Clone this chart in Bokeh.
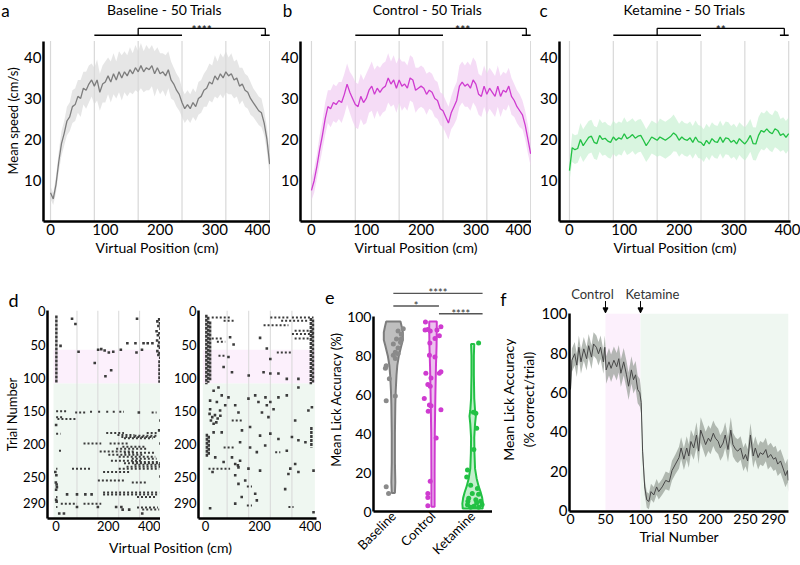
import numpy as np
from bokeh.plotting import figure
from bokeh.layouts import row, column
from bokeh.models import Range1d, FixedTicker, Arrow, NormalHead, LinearAxis, Title
from bokeh.embed import file_html
from bokeh.resources import INLINE
from bokeh.core.properties import value

FONT = "Lato"

# ---------------- data: panels a-c (mean running speed per 5 cm bin) ----------------
POS_CM = list(range(0, 401, 5))
ZONE_EDGES = [0, 80, 160, 240, 320, 400]
SPEED_MAX = 44

BASE_SPEED = [7, 5.5, 9, 14.5, 19, 21.5, 24.5, 25.5, 28,
              28.5, 30.5, 30, 32.5, 32, 33.5, 34.5, 33, 34.5,
              31.5, 33.5, 34, 35.5, 34, 36, 34.5, 36.5, 35,
              36.5, 35.5, 37, 36, 37.5, 36.5, 38, 36.5, 37.5,
              37, 38, 36, 37.5, 36, 36.5, 35.5, 37, 34.5,
              33.5, 32, 31, 29, 27.5, 28.5, 27.5, 29, 28,
              30, 30.5, 32, 32.5, 34, 33.5, 35.5, 34.5, 36,
              35, 36.5, 35.5, 36, 34.5, 35, 33, 33.5, 32,
              31.5, 30, 29, 28, 27, 26.5, 24, 20, 14]
BASE_SEM = [1.5, 1.5, 2, 2.5, 3, 3, 3.5, 3.5, 4,
            4, 4, 4.5, 4, 4.5, 4.5, 4, 4.5, 5,
            4.5, 4.5, 5, 4.5, 5, 5, 4.5, 5, 5.5,
            5, 5, 5.5, 5, 5.5, 5, 5.5, 5, 5.5,
            5, 5, 5.5, 5, 5, 4.5, 5, 4.5, 4.5,
            4, 4, 4, 3.5, 3.5, 3.5, 3.5, 3.5, 3.5,
            4, 4, 4, 4.5, 4.5, 4.5, 5, 4.5, 5,
            5, 5, 4.5, 5, 4.5, 4.5, 4.5, 4, 4,
            4, 4, 3.5, 3.5, 3.5, 3.5, 3, 3, 3]

CTRL_SPEED = [7.6, 10, 13.5, 17.5, 21, 25, 28, 27.5, 29,
              28.5, 29.5, 29, 31, 33.5, 31.5, 30, 28.5, 28,
              30.5, 29, 30, 32, 33, 31, 32.5, 31.5, 32.5,
              33, 35, 33.5, 34.5, 32.5, 34.5, 33, 33.5, 32.5,
              35, 34.5, 32, 32.5, 33, 32.5, 31, 32, 31.5,
              30, 29.5, 27.5, 27, 25.5, 24, 26.5, 28, 29.5,
              33, 34, 33, 33.5, 32.5, 34.5, 33.5, 31, 30.5,
              33, 31, 32.5, 31.5, 30.5, 33, 30.5, 32, 31.5,
              33, 30.5, 29.5, 28, 27, 26, 23.5, 20, 16.5]
CTRL_SEM = [2.5, 3, 3, 3.5, 3.5, 4, 4, 4.5, 4.5,
            4.5, 4.5, 5, 5, 5, 5, 5.5, 5.5, 5.5,
            5.5, 5.5, 6, 5.5, 6, 6, 5.5, 6, 6,
            6, 6, 5.5, 6, 6, 5.5, 6, 5.5, 5.5,
            5.5, 5.5, 5.5, 5, 5, 5, 5, 4.5, 4.5,
            4.5, 4.5, 4, 4, 4, 4, 4, 4.5, 4.5,
            5, 5, 5, 5.5, 5.5, 5.5, 5.5, 5, 5,
            5, 5, 5, 5, 5, 5, 5, 4.5, 4.5,
            4.5, 4.5, 4, 4, 4, 3.5, 3.5, 3.5, 3]

KET_SPEED = [12.4, 18, 17.5, 17.8, 20, 18.5, 19.5, 20.5, 20.8,
             19.3, 19, 21, 20, 20.3, 19.6, 19.3, 20.6, 19.8,
             20.4, 20.1, 21.4, 20.2, 20.6, 21.2, 20.3, 20.8, 21,
             19.8, 18.5, 19.5, 20.6, 20.2, 19.8, 20.6, 20.2, 19.8,
             20.3, 20.8, 21.6, 21, 19.8, 20.6, 20, 19.8, 20.4,
             19.3, 20.6, 19.5, 19.3, 18.5, 19.8, 18.9, 20.2, 19.5,
             19.3, 20.6, 19.3, 20.4, 20.2, 19.3, 19.8, 18.9, 20.2,
             19.5, 18.9, 19.8, 21, 19, 18.9, 21, 22.2, 21.8,
             22.6, 21.8, 21.4, 22.6, 22.2, 21, 21.4, 20.5, 21.4]
KET_SEM = [2.5, 3.5, 3.5, 3.5, 4, 4, 4, 4, 4,
           4, 4, 4, 4, 4, 4, 4, 4, 4,
           4, 4, 4, 4, 4, 4, 4, 4, 4,
           4, 4, 4, 4, 4, 4, 4.5, 4.5, 4.5,
           4.5, 4.5, 4.5, 4, 4, 4, 4, 4, 4,
           4, 4, 4, 4, 4, 4, 4, 4, 4,
           4, 4, 4, 4, 4, 4, 4, 4, 4,
           4, 4, 4, 4, 4, 4, 4.5, 4.5, 4.5,
           4.5, 4.5, 4.5, 4.5, 4.5, 4, 4, 4, 4]

# significance bracket: compared zone (low span) vs reward zone (high span)
BRACKET_LOW = [80, 240]
BRACKET_HIGH = [160, 392]
BRACKET_TAIL = [384, 400]
BRACKET_Y = [45.4, 47.1]
SPEED_STARS = ["****", "***", "**"]
SPEED_TITLES = ["Baseline - 50 Trials", "Control - 50 Trials", "Ketamine - 50 Trials"]
PANEL_LETTERS = ["a", "b", "c", "d", "e", "f"]

# ---------------- data: panel d (lick rasters) ----------------
SESSION_CONTROL = [58, 109]
SESSION_KETAMINE = [109, 313.5]
TRACK_EXTENT = [-10, 405]

# left raster: dense lick columns (x, first trial, last trial)
L_COL_X = [1, 396]
L_COL_T0 = [6, 74]
L_COL_T1 = [108, 108]
# runs of licks (trial, start cm, end cm)
L_RUN_T = [151, 153, 152, 152, 152, 152, 152, 153, 160, 163, 185, 184, 184, 187, 188, 190, 192,
           200, 200, 205, 208, 211, 212, 214, 217, 220, 223, 226, 228, 230, 232, 235, 238, 238, 238,
           243, 256, 259, 274, 277, 281, 281, 291, 291, 296, 297, 300]
L_RUN_X0 = [0, 73, 130, 161, 192, 217, 242, 366, 0, 5, 0, 192, 347, 235, 300, 250, 260,
            105, 205, 254, 230, 11, 167, 260, 200, 240, 290, 210, 290, 260, 300, 270, 0, 61, 240,
            180, 160, 290, 180, 180, 0, 310, 18, 105, 0, 310, 330]
L_RUN_X1 = [42, 117, 142, 173, 204, 229, 260, 385, 30, 80, 17, 260, 385, 300, 385, 380, 370,
            173, 280, 341, 350, 24, 300, 379, 330, 380, 385, 330, 395, 390, 398, 398, 5, 136, 395,
            280, 260, 350, 395, 390, 5, 385, 80, 173, 5, 390, 395]
# single licks (trial, cm)
L_DOT_T = [11, 19, 11, 52, 48, 48, 48, 48, 48, 61, 58, 57, 59, 62, 61, 58, 62, 58, 78, 89, 98,
           12, 15, 18, 22, 26, 30, 33, 36, 40, 44, 47, 52, 55, 60, 63, 66, 70,
           243, 248, 259, 262, 277, 277, 277, 277, 296, 296, 296, 296, 300, 300, 306, 306, 306,
           153, 172, 285, 288, 270, 266, 250, 230, 200, 165, 180]
L_DOT_X = [61, 74, 310, 17, 273, 304, 335, 351, 369, 86, 161, 173, 186, 202, 219, 248, 308, 329, 148, 211, 189,
           395, 388, 398, 392, 400, 385, 396, 390, 399, 387, 395, 392, 398, 388, 396, 392, 399,
           -3, 1, -1, 2, 42, 80, 112, 136, 80, 160, 230, 250, 255, 280, 12, 30, 330,
           317, 0, 0, 2, 0, 3, 400, 400, 400, 400, 395]

# right raster
R_COL_X = [3, 10, 17, 390, 398, 5, 12, 392]
R_COL_T0 = [5, 8, 15, 10, 12, 185, 188, 175]
R_COL_T1 = [110, 108, 104, 110, 109, 221, 218, 206]
R_RUN_T = [9, 9, 9, 14, 14, 21, 29, 34, 41, 41, 46, 62, 67, 165, 206, 213, 238, 265, 294, 296]
R_RUN_X0 = [23, 240, 320, 67, 280, 215, 330, 320, 23, 330, 42, 264, 48, 97, 67, 258, 11, 153, 153, 307]
R_RUN_X1 = [97, 307, 400, 104, 380, 307, 400, 400, 60, 395, 73, 320, 73, 141, 104, 277, 91, 172, 172, 326]
R_DOT_T = [39, 50, 40, 56, 72, 69, 84, 92, 97, 92, 94, 94, 102, 102,
           115, 120, 127, 130, 135, 137, 142, 148, 150, 142, 132, 127, 137, 130, 142, 137, 148, 130, 127,
           115, 150, 145, 153, 153,
           155, 157, 160, 162, 165, 168, 170, 158, 160, 165, 175,
           183, 183, 180, 188, 185, 193, 190, 195, 198, 198, 206, 213, 203, 211,
           221, 221, 226, 228, 231, 233, 236, 241, 238, 238, 231, 243, 243, 241, 246, 248, 256, 261,
           269, 276, 281, 286, 291, 298, 304]
R_DOT_X = [91, 104, 202, 227, 240, 85, 67, 98, 160, 215, 240, 270, 301, 344,
           48, 30, 60, 85, 17, 42, 73, 17, 54, 110, 159, 184, 196, 222, 227, 240, 252, 270, 301,
           344, 381, 394, 122, 209,
           15, 35, 25, 45, 20, 40, 30, 55, 233, 332, 165,
           30, 60, 135, 202, 240, 270, 320, 344, 370, 128, 165, 190, 221, 301,
           36, 98, 128, 67, 110, 120, 122, 202, 159, 314, 332, 344, 26, 400, 307, 110, 147, 122,
           295, 184, 134, 190, 110, 17, 400]
RASTER_TICKS_Y = [0, 50, 100, 150, 200, 250, 290]

# ---------------- data: panel e (mean lick accuracy per animal/session) ----------------
GROUPS = ["Baseline", "Control", "Ketamine"]
BASE_ACC = [93.8, 92.7, 91, 88.5, 88.5, 86.8, 86, 84, 81.8, 81, 80.2, 78.5, 74.8, 73.5, 68.2, 59.3, 56.8, 12.7, 9.3]
BASE_JIT = [0.25, 0.12, 0.2, 0.08, 0.2, 0.18, 0, 0.12, 0.05, 0.12, 0, 0.05, -0.18, -0.2, -0.1, 0.05, -0.18, -0.18, -0.12]
CTRL_ACC = [97.3, 93.2, 93.5, 92.7, 93.2, 90.2, 94.8, 88.8, 86.5, 80.2,
            79.3, 71, 68.5, 65.2, 64.3, 71.8, 71, 58, 54.7, 54.3,
            51.5, 52.2, 37.7, 15.5, 9.3, 7.2, 3]
CTRL_JIT = [-0.19, -0.2, -0.13, -0.07, 0.1, 0.16, 0.2, 0.05, -0.08, -0.09,
            0.05, -0.18, -0.05, -0.13, -0.07, 0.2, 0.16, -0.22, -0.09, -0.05,
            -0.12, 0.2, 0.08, -0.07, -0.13, -0.13, -0.13]
KET_ACC = [86.5, 51, 50.5, 42.7, 31.8, 21.3, 17.7, 13.5, 11.8, 9.3,
           8.8, 6.8, 6, 5.2, 3.5, 2.7, 2.2, 2.2, 3.5, 4.3, 5.2]
KET_JIT = [0.15, 0.02, 0.08, 0.1, 0.03, -0.13, -0.15, -0.05, 0.12, -0.01,
           0.15, -0.1, 0.08, 0.2, -0.13, 0.03, 0.15, -0.05, 0.24, 0.1, -0.12]
# violin outlines (accuracy level, half width in group units)
BASE_V_Y = [9.5, 15, 25, 40, 55, 62, 70, 75, 80, 85, 88, 92, 95, 97.5]
BASE_V_W = [0.04, 0.05, 0.04, 0.04, 0.05, 0.06, 0.08, 0.1, 0.14, 0.2, 0.24, 0.24, 0.21, 0.18]
CTRL_V_Y = [2.5, 20, 40, 60, 75, 85, 95, 97.5]
CTRL_V_W = [0.04, 0.04, 0.045, 0.06, 0.075, 0.09, 0.095, 0.095]
KET_V_Y = [1.5, 4, 7, 10, 13, 17, 22, 30, 38, 45, 49, 52, 58, 70, 80, 86]
KET_V_W = [0.25, 0.26, 0.24, 0.2, 0.15, 0.1, 0.06, 0.045, 0.04, 0.06, 0.08, 0.06, 0.04, 0.03, 0.03, 0.04]
E_BRACKETS = [(1.0, 3.25, 112.0, "****"), (1.0, 2.15, 105.5, "*"), (2.15, 3.25, 101.5, "****")]

# ---------------- data: panel f (lick accuracy across trials) ----------------
F_TRIAL = [0, 2, 6, 9, 12, 15, 19, 23, 26, 30, 33, 37, 40, 43, 47, 49, 51, 55, 58, 62,
           66, 69, 72, 76, 80, 83, 87, 90, 93, 96, 99, 101, 103, 106, 109, 112, 115, 119, 123, 126,
           131, 136, 141, 145, 150, 155, 158, 162, 166, 169, 172, 176, 180, 183, 186, 190, 193, 197, 200, 204,
           207, 211, 214, 218, 221, 225, 229, 232, 236, 239, 243, 247, 250, 253, 257, 261, 264, 268, 271, 275,
           279, 282, 286, 290, 293, 296, 300, 304, 307, 310, 311]
F_ACC = [61.5, 76.4, 79.7, 73.9, 83, 75.6, 82.2, 77.2, 83.8, 78, 84.7, 83, 79.7, 83, 75.6, 83, 71.5, 75.6, 72.3, 76.4,
         73.1, 77.2, 69.8, 75.6, 69, 63.2, 71.5, 66.5, 69, 61.5, 59.9, 55, 30.2, 12, 5.4, 4.6, 9.6, 7.9, 12, 9.6,
         12, 15.3, 14.5, 20.3, 23.6, 26.9, 31.8, 26.1, 31.8, 27.7, 35.1, 31.8, 38.4, 30.2, 40.9, 36.8, 33.5, 36.8, 35.1, 39.3,
         36.8, 35.1, 31.8, 34.3, 38.4, 31, 40.9, 33.5, 31, 30.2, 31.8, 26.1, 28.5, 25.2, 38.4, 27.7, 31.8, 26.9, 29.4, 28.5,
         31, 26.9, 28.5, 26.1, 26.9, 23.6, 25.2, 21.1, 17.8, 20.3, 15.3]
F_SEM = [5, 6, 6, 6, 6, 6, 6, 6, 6, 6, 6, 6, 6, 6, 6, 6, 7, 7, 7, 7,
         7, 7, 7, 7, 7, 7, 7, 7, 7, 7, 7, 6, 5, 4, 4, 4, 4, 4, 4, 4,
         4, 4.5, 4.5, 5, 5, 5.5, 5.5, 5.5, 6, 6, 6, 6, 6.5, 6.5, 6.5, 6.5, 6.5, 6.5, 6.5, 6.5,
         6.5, 6.5, 6.5, 6.5, 6.5, 6.5, 6.5, 6, 6, 6, 6, 6, 6, 6, 6, 6, 6, 6, 6, 6,
         6, 6, 6, 6, 6, 6, 6, 6, 6, 6, 6]
F_SESSION_CONTROL = [50, 100]
F_SESSION_KETAMINE = [100, 311.5]
F_TICKS = [0, 50, 100, 150, 200, 250, 290]

# ---------------- colours ----------------
GREY_LINE, GREY_BAND = "#7d7d7d", "#d9d9d9"
MAG_LINE, MAG_BAND = "#cf3bd0", "#f0c9f1"
GRN_LINE, GRN_BAND = "#22c144", "#c4efcf"
PINK_BG, GREEN_BG = "#fcf0fc", "#eff7f1"
ZONE_C = "#d8d8d8"
RASTER_C = "#3b3b3b"


def base_fig(width, height, xr, yr, bl, br, bt, bb, **kw):
    p = figure(width=width, height=height, x_range=Range1d(*xr), y_range=Range1d(*yr),
               output_backend="svg", toolbar_location=None,
               min_border_left=bl, min_border_right=br, min_border_top=bt, min_border_bottom=bb, **kw)
    p.outline_line_color = None
    p.xgrid.visible = False
    p.ygrid.visible = False
    for ax in (p.xaxis[0], p.yaxis[0]):
        ax.axis_line_width = 2.5
        ax.axis_line_color = "black"
        ax.major_tick_line_color = None
        ax.minor_tick_line_color = None
        ax.major_tick_out = 0
        ax.major_tick_in = 0
        ax.minor_tick_out = 0
        ax.minor_tick_in = 0
        ax.major_label_text_font = FONT
        ax.major_label_text_font_size = "15px"
        ax.major_label_text_color = "black"
        ax.axis_label_text_font = FONT
        ax.axis_label_text_font_size = "14px"
        ax.axis_label_text_font_style = "normal"
        ax.axis_label_text_color = "black"
        ax.axis_label_standoff = 1
        ax.major_label_standoff = 2
    return p


def axis_letter(p, txt, yval):
    # panel letter drawn as the single label of an extra, line-less axis on the left;
    # the negative standoff lets it take no extra width
    ax = LinearAxis(ticker=FixedTicker(ticks=[yval]), major_label_overrides={yval: txt},
                    axis_line_color=None, major_tick_line_color=None, minor_tick_line_color=None,
                    major_tick_out=0, major_tick_in=0, minor_tick_out=0, minor_tick_in=0,
                    major_label_text_font=FONT, major_label_text_font_size="18px",
                    major_label_text_color="black", major_label_standoff=-9)
    p.add_layout(ax, "left")


# ---------------- top strip: panel letters and titles ----------------
STRIP_H = 20
strip = figure(width=800, height=STRIP_H, x_range=Range1d(0, 800), y_range=Range1d(STRIP_H, 0),
               output_backend="svg", toolbar_location=None, min_border=0,
               x_axis_location=None, y_axis_location=None)
strip.outline_line_color = None
strip.grid.visible = False
strip.text(x=[5, 287, 543], y=[10, 10, 10], text=PANEL_LETTERS[:3], text_font=value(FONT),
           text_font_size="17px", text_align="center", text_baseline="middle", text_color="black")
strip.text(x=[164, 427, 684], y=[9, 9, 9], text=SPEED_TITLES, text_font=value(FONT),
           text_font_size="14px", text_align="center", text_baseline="middle", text_color="black")

TOP_H, TOP_BB = 285 - STRIP_H, 64


def speed_panel(mean, sem, lc, bc, stars, width, bl, br, xr, ylabel):
    p = base_fig(width, TOP_H, xr, (0, 49.0), bl, br, 0, TOP_BB)
    x = np.array(POS_CM)
    m = np.array(mean)
    s = np.array(sem)
    p.segment(x0=ZONE_EDGES, y0=0, x1=ZONE_EDGES, y1=SPEED_MAX, color=ZONE_C, line_width=1.2)
    p.varea(x=x, y1=m - s, y2=m + s, fill_color=bc, fill_alpha=0.65)
    p.line(x, m, line_color=lc, line_width=1.3)
    lo, hi = BRACKET_Y
    bx0 = [BRACKET_LOW[0], BRACKET_HIGH[0], BRACKET_HIGH[0], BRACKET_HIGH[1], BRACKET_TAIL[0]]
    bx1 = [BRACKET_LOW[1], BRACKET_HIGH[0], BRACKET_HIGH[1], BRACKET_HIGH[1], BRACKET_TAIL[1]]
    by0 = [lo, lo, hi, hi, lo]
    by1 = [lo, hi, hi, lo, lo]
    p.segment(x0=bx0, y0=by0, x1=bx1, y1=by1, color="black", line_width=1.3)
    p.text(x=[(BRACKET_HIGH[0] + BRACKET_HIGH[1]) / 2], y=[hi - 0.4], text=[stars],
           text_font=value(FONT), text_font_size="12px", text_align="center",
           text_baseline="alphabetic", text_color="black")
    p.xaxis.ticker = FixedTicker(ticks=[0, 100, 200, 300, 400])
    p.yaxis.ticker = FixedTicker(ticks=[10, 20, 30, 40])
    p.yaxis.bounds = (0, SPEED_MAX)
    p.xaxis.axis_label = "Virtual Position (cm)"
    if ylabel:
        p.yaxis.axis_label = ylabel
        p.yaxis.axis_label_text_font_size = "13px"
        p.yaxis.axis_label_standoff = 0
    return p


pa = speed_panel(BASE_SPEED, BASE_SEM, GREY_LINE, GREY_BAND, SPEED_STARS[0],
                 270, 43, 0, (-12.8, 401.5), "Mean speed (cm/s)")
pb = speed_panel(CTRL_SPEED, CTRL_SEM, MAG_LINE, MAG_BAND, SPEED_STARS[1],
                 261, 30, 0, (-20, 401.5), None)
pc = speed_panel(KET_SPEED, KET_SEM, GRN_LINE, GRN_BAND, SPEED_STARS[2],
                 269, 28, 10, (-18.2, 403.3), None)

D_H, D_BT, D_BB = 252, 25, 19


def raster_panel(width, bl, br, xr, cols, runs, dots, ylabel):
    p = base_fig(width, D_H, xr, (313.5, -1.5), bl, br, D_BT, D_BB)
    p.quad(left=TRACK_EXTENT[0], right=TRACK_EXTENT[1], bottom=SESSION_CONTROL[1], top=SESSION_CONTROL[0],
           fill_color=PINK_BG, line_color=None)
    p.quad(left=TRACK_EXTENT[0], right=TRACK_EXTENT[1], bottom=SESSION_KETAMINE[1], top=SESSION_KETAMINE[0],
           fill_color=GREEN_BG, line_color=None)
    zones = ZONE_EDGES[1:-1]
    p.segment(x0=zones, y0=-1.5, x1=zones, y1=313.5, color=ZONE_C, line_width=1)
    cx, ct0, ct1 = cols
    p.segment(x0=cx, y0=ct0, x1=cx, y1=ct1, color=RASTER_C, line_width=2.5, line_dash="3 1")
    rt, rx0, rx1 = runs
    p.segment(x0=rx0, y0=rt, x1=rx1, y1=rt, color=RASTER_C, line_width=2, line_dash="2 2")
    dt, dx = dots
    p.scatter(x=dx, y=dt, marker="square", size=2.6, color=RASTER_C, line_color=None)
    p.xaxis.ticker = FixedTicker(ticks=[0, 200, 400])
    p.yaxis.ticker = FixedTicker(ticks=RASTER_TICKS_Y)
    p.yaxis.bounds = (-1.5, 313.5)
    for ax in (p.xaxis[0], p.yaxis[0]):
        ax.major_label_text_font_size = "13px"
        ax.major_label_standoff = 2
    if ylabel:
        p.yaxis.axis_label = ylabel
        p.yaxis.axis_label_standoff = 0
        p.yaxis.axis_label_text_font_size = "13px"
    return p


pd1 = raster_panel(160, 43, 0, (-33, 400), (L_COL_X, L_COL_T0, L_COL_T1),
                   (L_RUN_T, L_RUN_X0, L_RUN_X1), (L_DOT_T, L_DOT_X), "Trial Number")
pd1.add_layout(Title(text=PANEL_LETTERS[3], align="left", offset=-39, standoff=0,
                     text_font=FONT, text_font_size="18px", text_font_style="normal",
                     text_color="black"), "above")
pd2 = raster_panel(161, 38, 5, (-26, 411), (R_COL_X, R_COL_T0, R_COL_T1),
                   (R_RUN_T, R_RUN_X0, R_RUN_X1), (R_DOT_T, R_DOT_X), None)

plab = figure(width=321, height=28, x_range=Range1d(0, 321), y_range=Range1d(0, 28),
              output_backend="svg", toolbar_location=None, min_border=0,
              x_axis_location=None, y_axis_location=None)
plab.outline_line_color = None
plab.grid.visible = False
plab.text(x=[170], y=[27], text=["Virtual Position (cm)"], text_font=value(FONT),
          text_font_size="14px", text_align="center", text_baseline="top", text_color="black")

# ---------------- panel e ----------------
BOT_H, BOT_BT, BOT_BB = 280, 2, 48
pe = base_fig(171, BOT_H, (0.5, 3.5), (0, 115), 51, 0, BOT_BT, BOT_BB)
violins = [(1, BASE_V_Y, BASE_V_W, GREY_LINE, "#a9a9a9", BASE_ACC, BASE_JIT, "#8a8a8a"),
           (2, CTRL_V_Y, CTRL_V_W, MAG_LINE, "#e6aee8", CTRL_ACC, CTRL_JIT, MAG_LINE),
           (3, KET_V_Y, KET_V_W, GRN_LINE, "#aee9bb", KET_ACC, KET_JIT, GRN_LINE)]
for c, vy, vw, lc, fc, acc, jit, dc in violins:
    vy = np.array(vy)
    vw = np.array(vw)
    xs = np.concatenate([c - vw, (c + vw)[::-1]])
    ys = np.concatenate([vy, vy[::-1]])
    pe.patch(xs, ys, fill_color=fc, fill_alpha=0.75, line_color=lc, line_width=2)
    pe.scatter(x=c + np.array(jit), y=acc, size=5, color=dc, line_color=None)
for x0, x1, yb, st in E_BRACKETS:
    pe.segment(x0=[x0], y0=[yb], x1=[x1], y1=[yb], color="#555555", line_width=1.4)
    pe.text(x=[(x0 + x1) / 2], y=[yb + 0.3], text=[st], text_font=value(FONT), text_font_size="11px",
            text_align="center", text_baseline="alphabetic", text_color="#333333")
pe.xaxis.ticker = FixedTicker(ticks=[1, 2, 3])
pe.xaxis.major_label_overrides = {1: GROUPS[0], 2: GROUPS[1], 3: GROUPS[2]}
pe.xaxis.major_label_orientation = np.pi / 4
pe.xaxis.major_label_text_font_size = "13px"
pe.yaxis.major_label_text_font_size = "14px"
pe.yaxis.ticker = FixedTicker(ticks=[0, 20, 40, 60, 80, 100])
pe.yaxis.bounds = (0, 100)
pe.yaxis.axis_label = "Mean Lick Accuracy (%)"
pe.yaxis.axis_label_text_font_size = "13px"
pe.yaxis.axis_label_standoff = 0
axis_letter(pe, PANEL_LETTERS[4], 110)

# ---------------- panel f ----------------
pf = base_fig(308, BOT_H, (-1.4, 311.4), (-0.5, 113.4), 77, 12, BOT_BT, BOT_BB)
pf.quad(left=F_SESSION_CONTROL[0], right=F_SESSION_CONTROL[1], bottom=-0.5, top=100,
        fill_color=PINK_BG, line_color=None)
pf.quad(left=F_SESSION_KETAMINE[0], right=F_SESSION_KETAMINE[1], bottom=-0.5, top=100,
        fill_color=GREEN_BG, line_color=None)
ft = np.array(F_TRIAL)
fa = np.array(F_ACC)
fs = np.array(F_SEM)
pf.varea(x=ft, y1=fa - fs, y2=fa + fs, fill_color="#8e978e", fill_alpha=0.65)
pf.line(ft, fa, line_color="#474747", line_width=1)
for xv, txt, off in [(F_SESSION_CONTROL[0], "Control", -13), (F_SESSION_KETAMINE[0], "Ketamine", 12)]:
    pf.text(x=[xv], y=[110], text=[txt], x_offset=off, text_font=value(FONT), text_font_size="13px",
            text_align="center", text_baseline="middle", text_color="#333333")
    pf.add_layout(Arrow(x_start=xv, y_start=106.5, x_end=xv, y_end=100.5, line_width=1,
                        line_color="black", end=NormalHead(size=5, fill_color="black", line_color="black")))
pf.xaxis.ticker = FixedTicker(ticks=F_TICKS)
pf.xaxis.major_label_text_font_size = "14px"
pf.yaxis.ticker = FixedTicker(ticks=[0, 20, 40, 60, 80, 100])
pf.yaxis.bounds = (-0.5, 100)
pf.xaxis.axis_label = "Trial Number"
pf.yaxis.axis_label = "Mean Lick Accuracy\n(% correct/trial)"
axis_letter(pf, PANEL_LETTERS[5], 110)

layout = column(strip, row(pa, pb, pc), row(column(row(pd1, pd2), plab), pe, pf))
open("out.html", "w").write(file_html(layout, INLINE))
